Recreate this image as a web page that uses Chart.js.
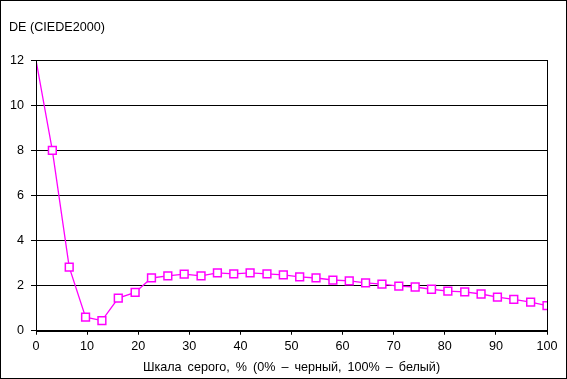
<!DOCTYPE html>
<html>
<head>
<meta charset="utf-8">
<script src="https://cdn.jsdelivr.net/npm/chart.js@4"></script>
<style>
  html, body { margin: 0; padding: 0; background: #fff; }
  #wrap { width: 567px; height: 379px; }
</style>
</head>
<body>
<div id="wrap"><canvas id="deChart" width="567" height="379"></canvas></div>
<script>
/* ---- data ---- */
const grayLevels = [0, 3.2, 6.5, 9.7, 12.9, 16.1, 19.4, 22.6, 25.8, 29, 32.3, 35.5, 38.7, 41.9, 45.2, 48.4,
                    51.6, 54.8, 58.1, 61.3, 64.5, 67.7, 71, 74.2, 77.4, 80.6, 83.9, 87.1, 90.3, 93.5, 96.8, 100];
const deValues = [12, 8.0, 2.82, 0.6, 0.45, 1.45, 1.7, 2.34, 2.43, 2.51, 2.43, 2.57, 2.52, 2.57, 2.52, 2.48,
                  2.39, 2.34, 2.25, 2.21, 2.12, 2.07, 1.98, 1.94, 1.84, 1.76, 1.72, 1.63, 1.49, 1.39, 1.27, 1.11];
const yTitle = "DE (CIEDE2000)";
const xTitle = "Шкала \u2009серого, \u2009% \u2009(0% \u2009– \u2009черный, \u2009100% \u2009– \u2009белый)";

const FONT = "'Liberation Sans', Arial, sans-serif";
Chart.defaults.font.family = FONT;
Chart.defaults.font.size = 12.6;
Chart.defaults.color = "#000";

// frame around the plot area and around the whole picture
const framePlugin = {
    id: "frames",
    afterDraw(chart) {
        const ctx = chart.ctx;
        const a = chart.chartArea;
        ctx.save();
        ctx.strokeStyle = "#000";
        ctx.lineWidth = 1;
        ctx.strokeRect(Math.round(a.left) + 0.5, Math.round(a.top) + 0.5,
                       Math.round(a.right - a.left), Math.round(a.bottom - a.top));
        ctx.strokeRect(0.5, 0.5, chart.width - 1, chart.height - 1);
        ctx.restore();
    }
};

new Chart(document.getElementById("deChart"), {
    type: "line",
    data: {
        datasets: [{
            data: grayLevels.map((x, i) => ({ x: x, y: deValues[i] })),
            borderColor: "#ff00ff",
            borderWidth: 1.3,
            pointStyle: "rect",
            pointRadius: ctx => ctx.dataIndex === 0 ? 0 : 5.5,
            pointBorderWidth: 1.5,
            pointBorderColor: "#ff00ff",
            pointBackgroundColor: "#fff",
            tension: 0
        }]
    },
    options: {
        responsive: false,
        animation: false,
        layout: { padding: { left: 9, right: 20, top: 0, bottom: 4 } },
        plugins: {
            legend: { display: false },
            tooltip: { enabled: false },
            title: {
                display: true,
                text: yTitle,
                align: "start",
                font: { size: 12.6, weight: "normal" },
                padding: { top: 20, bottom: 25 }
            }
        },
        scales: {
            x: {
                type: "linear",
                min: 0, max: 100,
                ticks: { stepSize: 10, padding: 4, maxRotation: 0 },
                grid: { drawOnChartArea: false, color: "#000", tickLength: 4 },
                border: { color: "#000" },
                title: { display: true, text: xTitle, padding: { top: 2, bottom: 0 } }
            },
            y: {
                min: 0, max: 12,
                ticks: { stepSize: 2, padding: 7 },
                grid: { color: "#000", tickLength: 5 },
                border: { color: "#000" },
                afterFit(scale) { scale.width = 27; }
            }
        }
    },
    plugins: [framePlugin]
});
</script>
</body>
</html>
